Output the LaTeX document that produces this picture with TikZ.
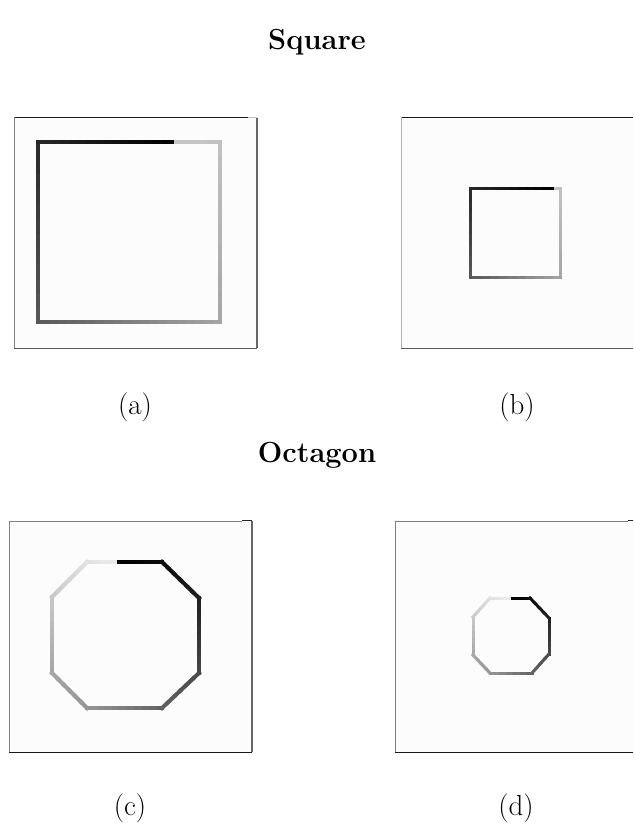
\documentclass[tikz,border=0pt]{standalone}
\usepackage{tikz}
\usetikzlibrary{calc}
\tikzset{
  every picture/.style={line join=miter},
  frameline/.style={line width=1pt},
  panelbg/.style={fill=black!1,draw=none},
  trace/.style={line cap=rect},
  caption/.style={font=\fontsize{29}{34}\selectfont,inner sep=0pt},
  heading/.style={font=\fontsize{29}{34}\selectfont\bfseries,inner sep=0pt}
}
% edge of a traced outline, shaded from one grey level to another
\newcommand{\gradedge}[6]{%
  \foreach \i in {1,...,#5}{
    \pgfmathsetmacro{\kk}{#3+(#4-#3)*(\i-0.5)/#5}
    \draw[trace,line width=#6,draw=black!\kk]
      ($(#1)!{(\i-1)/#5}!(#2)$) -- ($(#1)!{\i/#5}!(#2)$);
  }}
\begin{document}
\begin{tikzpicture}[x=1pt,y=-1pt]
  \useasboundingbox (0,0) rectangle (633,828);

  % Titles and captions.
  \node[heading] (sqtitle) at (317,42) {Square};
  \node[heading] (octitle) at (317,455) {Octagon};
  \node[caption] (capa) at (135,407) {(a)};
  \node[caption] (capb) at (517,407) {(b)};
  \node[caption] (capc) at (130,808) {(c)};
  \node[caption] (capd) at (516,808) {(d)};

  % Panel (a): large square.
  \fill[panelbg] (14,117) rectangle (257,348);
  \draw[frameline,draw=black!90] (14,117) -- (248,117);
  \draw[frameline,draw=black!25] (248,117) -- (257,117);
  \draw[frameline,draw=black!50] (14,117) -- (14,348);
  \draw[frameline,line width=1.5pt,draw=black!60] (257,118) -- (257,348);
  \draw[frameline,draw=black!65] (14,348) -- (257,348);
  \coordinate (aTL) at (38,142);
  \coordinate (aTR) at (220,142);
  \coordinate (aBR) at (220,322);
  \coordinate (aBL) at (38,322);
  \coordinate (aB) at (172,142);
  \gradedge{aB}{aTR}{22}{24}{4}{4pt}
  \gradedge{aTR}{aBR}{24}{35}{12}{4pt}
  \gradedge{aBR}{aBL}{35}{65}{20}{4pt}
  \gradedge{aBL}{aTL}{65}{84}{12}{4pt}
  \gradedge{aTL}{aB}{84}{100}{16}{4pt}

  % Panel (b): small square.
  \fill[panelbg] (401,117) rectangle (633,348);
  \draw[frameline,draw=black!90] (401,117) -- (633,117);
  \draw[frameline,draw=black!30] (401,117) -- (401,348);
  \draw[frameline,draw=black!65] (401,348) -- (633,348);
  \coordinate (bTL) at (470,188);
  \coordinate (bTR) at (560,188);
  \coordinate (bBR) at (560,277);
  \coordinate (bBL) at (470,277);
  \coordinate (bB) at (552,188);
  \gradedge{bB}{bTR}{22}{24}{2}{3pt}
  \gradedge{bTR}{bBR}{24}{35}{8}{3pt}
  \gradedge{bBR}{bBL}{35}{65}{10}{3pt}
  \gradedge{bBL}{bTL}{65}{84}{8}{3pt}
  \gradedge{bTL}{bB}{84}{100}{10}{3pt}

  % Panel (c): large octagon.
  \fill[panelbg] (9,521) rectangle (252,752);
  \draw[frameline,draw=black!50] (9,521) -- (242,521);
  \draw[frameline,draw=black!85] (242,520) -- (252,520);
  \draw[frameline,draw=black!50] (9,521) -- (9,752);
  \draw[frameline,line width=1.5pt,draw=black!60] (252,521) -- (252,752);
  \draw[frameline,draw=black!90] (9,752) -- (252,752);
  \coordinate (c1) at (87,562);
  \coordinate (c2) at (162,562);
  \coordinate (c3) at (199,598);
  \coordinate (c4) at (199,673);
  \coordinate (c5) at (162,708);
  \coordinate (c6) at (87,708);
  \coordinate (c7) at (52,673);
  \coordinate (c8) at (52,597);
  \coordinate (cB) at (115,562);
  \gradedge{cB}{c2}{100}{96}{6}{4pt}
  \gradedge{c2}{c3}{96}{88}{6}{4pt}
  \gradedge{c3}{c4}{88}{72}{10}{4pt}
  \gradedge{c4}{c5}{72}{62}{6}{4pt}
  \gradedge{c5}{c6}{62}{42}{10}{4pt}
  \gradedge{c6}{c7}{42}{35}{6}{4pt}
  \gradedge{c7}{c8}{35}{22}{10}{4pt}
  \gradedge{c8}{c1}{22}{12}{6}{4pt}
  \gradedge{c1}{cB}{12}{8}{4}{4pt}

  % Panel (d): small octagon.
  \fill[panelbg] (395,521) rectangle (633,752);
  \draw[frameline,draw=black!50] (395,521) -- (628,521);
  \draw[frameline,draw=black!85] (628,520) -- (633,520);
  \draw[frameline,draw=black!50] (395,521) -- (395,752);
  \draw[frameline,draw=black!90] (395,752) -- (633,752);
  \coordinate (d1) at (490,598);
  \coordinate (d2) at (530,598);
  \coordinate (d3) at (549,618);
  \coordinate (d4) at (549,654);
  \coordinate (d5) at (532,673);
  \coordinate (d6) at (490,673);
  \coordinate (d7) at (473,655);
  \coordinate (d8) at (473,617);
  \coordinate (dB) at (509,598);
  \gradedge{dB}{d2}{100}{96}{4}{3pt}
  \gradedge{d2}{d3}{96}{88}{4}{3pt}
  \gradedge{d3}{d4}{88}{72}{6}{3pt}
  \gradedge{d4}{d5}{72}{62}{4}{3pt}
  \gradedge{d5}{d6}{62}{42}{6}{3pt}
  \gradedge{d6}{d7}{42}{35}{4}{3pt}
  \gradedge{d7}{d8}{35}{22}{6}{3pt}
  \gradedge{d8}{d1}{22}{12}{4}{3pt}
  \gradedge{d1}{dB}{12}{8}{3}{3pt}
\end{tikzpicture}
\end{document}
